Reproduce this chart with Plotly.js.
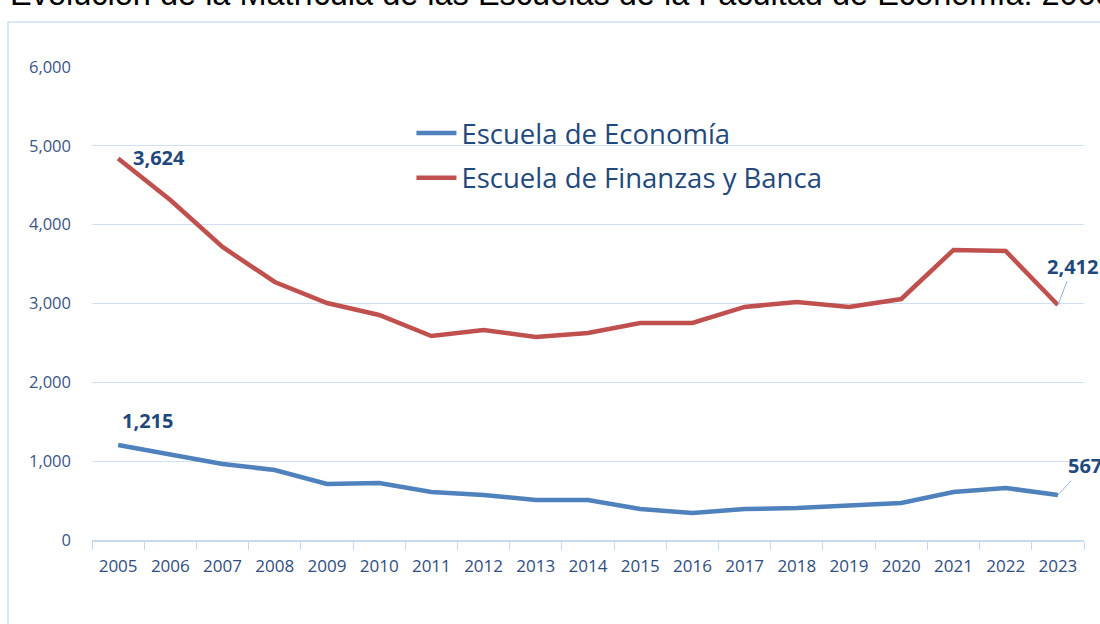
<!DOCTYPE html>
<html>
<head>
<meta charset="utf-8">
<script src="https://cdn.plot.ly/plotly-3.0.1.min.js"></script>
<style>html,body{margin:0;padding:0;background:#fff;}#chart{width:1100px;height:624px;}</style>
</head>
<body>
<div id="chart"></div>
<script>
const years = ["2005","2006","2007","2008","2009","2010","2011","2012","2013","2014","2015","2016","2017","2018","2019","2020","2021","2022","2023"];
const economia = [1205,1091,964,888,710,723,609,571,507,507,393,342,393,406,431,469,609,660,571];
const finanzas = [4840,4313,3717,3273,3006,2854,2588,2664,2575,2626,2753,2753,2956,3019,2956,3057,3679,3666,2981];
const seriesNames = ["Escuela de Economía","Escuela de Finanzas y Banca"];
const yTicks = [0,1000,2000,3000,4000,5000,6000];
const yTickText = ["0","1,000","2,000","3,000","4,000","5,000","6,000"];
const pointLabels = [
  {series:1, idx:0, text:"3,624"},
  {series:0, idx:0, text:"1,215"},
  {series:1, idx:18, text:"2,412"},
  {series:0, idx:18, text:"567"}
];
const titleText = "Evolución de la Matrícula de las Escuelas de la Facultad de Economía: 2005-2023";

const dataSets = [economia, finanzas];
const colors = ["#4F81BD","#C0504D"];
const labelColor = "#1F497D";
const labelFont = {family:"Open Sans, sans-serif", size:20, color:labelColor};

const traces = dataSets.map((d,i)=>({
  type:"scatter", mode:"lines", x:years, y:d, name:seriesNames[i], legendgroup:"g"+i,
  line:{color:colors[i], width:4.5, shape:"linear"}
}));

const annotations = [];
pointLabels.forEach(p=>{
  const y = dataSets[p.series][p.idx];
  if (p.idx === 0) {
    annotations.push({x:p.idx, y:y, text:"<b>"+p.text+"</b>", showarrow:false,
      xanchor:"left", yanchor:"bottom", xshift:p.series===1?13:2, yshift:p.series===1?-15:9,
      font:labelFont});
  } else {
    annotations.push({x:p.idx, y:y, text:"<b>"+p.text+"</b>", showarrow:true,
      arrowhead:0, arrowwidth:1, arrowcolor:"#8DB3E2",
      ax:p.series===1?15:27, ay:p.series===1?-39:-29,
      xanchor:"center", yanchor:"middle", font:labelFont});
  }
});
// cut-off title, as in the reference
annotations.push({xref:"paper", yref:"paper", x:-0.0847, y:1.112, xanchor:"left", yanchor:"bottom",
  text:titleText, showarrow:false,
  font:{family:"Liberation Sans, Arial, sans-serif", size:32.5, color:"#000000"}});

const layout = {
  width:1100, height:624,
  margin:{l:92, r:16, t:67, b:84},
  paper_bgcolor:"#ffffff", plot_bgcolor:"#ffffff",
  showlegend:true,
  legend:{x:0.322, y:0.912, xanchor:"left", yanchor:"top", bgcolor:"rgba(0,0,0,0)", traceorder:"grouped",
    font:{family:"Open Sans, sans-serif", size:27.5, color:labelColor}, tracegroupgap:6, itemwidth:40},
  xaxis:{type:"category", range:[-0.5,18.5], tickson:"boundaries", ticks:"outside", ticklen:8, tickcolor:"#C6D9F1",
    showline:true, linecolor:"#C6D9F1", linewidth:1.5, showgrid:false, zeroline:false, tickangle:0,
    ticklabelstandoff:10,
    tickfont:{family:"Liberation Sans Narrow, Open Sans, sans-serif", size:17, color:"#2F4D7F"},
    fixedrange:true},
  yaxis:{range:[0,6000], tickvals:yTicks, ticktext:yTickText, showgrid:true, gridcolor:"#D0DFF2", gridwidth:1.2,
    zeroline:false, showline:false, ticks:"", ticklabelstandoff:20,
    tickfont:{family:"Open Sans, sans-serif", size:16.5, color:"#3B5587"}, fixedrange:true},
  annotations:annotations,
  shapes:[{type:"rect", xref:"paper", yref:"paper", x0:-0.0847, x1:1.2, y0:-0.3, y1:1.0951,
    line:{color:"#D0DFF2", width:1.5}, fillcolor:"rgba(0,0,0,0)", layer:"below"}]
};

Plotly.newPlot("chart", traces, layout, {displayModeBar:false, staticPlot:true});
</script>
</body>
</html>
